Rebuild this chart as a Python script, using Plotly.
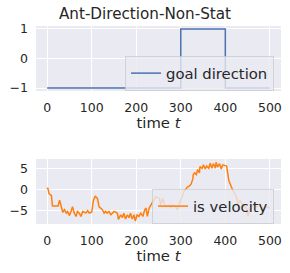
import plotly.graph_objects as go
from plotly.subplots import make_subplots

title = "Ant-Direction-Non-Stat"
goal_t = [0, 300, 400, 500]
goal_dir = [-1, 1, -1, -1]

vel_t = [0, 1.5, 4.5, 9.6, 11.9, 24.6, 28, 31.5, 35, 39, 43, 46, 50, 53.5, 57, 61, 65, 68, 72, 76,
         80, 87, 91, 94.5, 100, 104, 108, 113, 116.6, 120, 124, 128, 131, 135, 139, 143, 150, 157.6, 160, 165,
         169, 172, 176, 180, 184, 187, 191, 195, 198, 202, 206, 210, 215, 219, 222, 225, 229, 237, 244, 252,
         255, 259, 266, 274, 278, 281, 289, 292, 296, 304, 308, 311, 315, 319, 323, 327, 328, 331, 335, 338,
         342, 343, 348, 351, 355, 358, 363, 366, 370, 373, 378, 379, 383, 387, 391, 394, 400, 403, 408, 413,
         417, 425, 428, 432, 440, 447, 451, 455, 462, 470, 477, 485, 492, 500]
vel = [0, 0.3, -1.1, -1.5, -4, -4, -2.6, -4.5, -5.5, -4.9, -5.7, -5.3, -6.3, -5.3, -4.2, -5.7, -6.5, -5.3, -5.7, -6.5,
       -5.3, -5.7, -5.1, -5.7, -5.5, -2.6, -1.7, -2.2, -4.2, -4.5, -4.9, -5.7, -5.3, -5.7, -5.3, -6.1, -5.3, -5.7, -7.2, -6.1,
       -6.8, -5.7, -7.1, -6.1, -6.8, -5.7, -7.1, -6.1, -7.6, -6.1, -6.5, -5.7, -6.5, -4.9, -4.5, -6.5, -4.5, -3, -1.8, -2.2,
       -3.8, -2.2, -4.2, -3.8, -4.5, -3.8, -4.2, -4.9, -3.8, -1.5, -0.3, 0, 0.5, 0.7, 1.2, 2.4, 3.5, 3.9, 3.5, 4.7,
       3.9, 5.4, 5, 5.8, 4.8, 5.5, 5, 6.2, 5, 6.1, 5, 6.4, 5.3, 6.1, 4.8, 5.8, 5.5, 5.5, 2, 0.5,
       -0.3, -1.8, -3.8, -2.6, -3.8, -4.5, -6.5, -4.5, -3.8, -4.2, -3.6, -4.9, -4.2, -4.5]

x_ticks = [0, 100, 200, 300, 400, 500]
y1_ticks = [-1, 0, 1]
y2_ticks = [-5, 0, 5]

W, H = 290, 273
ml, mr, mt, mb = 36, 9, 26, 49
ph = H - mt - mb
pw = W - ml - mr

fig = make_subplots(rows=2, cols=1)
fig.add_trace(go.Scatter(x=goal_t, y=goal_dir, mode="lines", line=dict(color="#4C72B0", width=1.5, shape="hv"),
                         name="goal direction", legend="legend"), row=1, col=1)
fig.add_trace(go.Scatter(x=vel_t, y=vel, mode="lines", line=dict(color="#FF7F0E", width=1.5),
                         name="is velocity", legend="legend2"), row=2, col=1)

txt = "#262626"
fam = "DejaVu Sans"
lab_font = dict(family=fam, size=14.8, color=txt)
leg_font = dict(family=fam, size=14.8, color=txt)
axcommon = dict(showgrid=True, gridcolor="white", gridwidth=1, zeroline=False, showline=False,
                ticks="", automargin=False, tickfont=dict(family=fam, size=12.5, color=txt))

fig.update_layout(
    width=W, height=H, margin=dict(l=ml, r=mr, t=mt, b=mb),
    paper_bgcolor="white", plot_bgcolor="#EAEAF2",
    font=lab_font,
    title=dict(text=title, x=0.5, xanchor="center", y=1 - 14 / H, yanchor="middle",
               font=dict(family=fam, size=15.2, color=txt)),
    legend=dict(x=(274 - ml) / pw, xanchor="right", y=(H - mb - 56) / ph, yanchor="top",
                bgcolor="rgba(234,234,242,0.8)", bordercolor="rgba(204,204,204,0.8)", borderwidth=1,
                font=leg_font, itemwidth=30),
    legend2=dict(x=(274 - ml) / pw, xanchor="right", y=(H - mb - 189) / ph, yanchor="top",
                 bgcolor="rgba(234,234,242,0.8)", bordercolor="rgba(204,204,204,0.8)", borderwidth=1,
                 font=leg_font, itemwidth=30),
    showlegend=True,
)

top_lo = (H - mb - 91) / ph
bot_hi = (H - mb - 159) / ph
fig.update_xaxes(axcommon, range=[-25, 525], tickvals=x_ticks, ticklabelstandoff=7,
                 title=dict(text="time <i>t</i>", font=lab_font, standoff=4))
fig.update_yaxes(axcommon, ticklabelstandoff=7)
fig.update_layout(
    yaxis=dict(domain=[top_lo, 1], range=[-1.1, 1.1], tickvals=y1_ticks),
    yaxis2=dict(domain=[0, bot_hi], range=[-8.3, 7.2], tickvals=y2_ticks),
    xaxis=dict(anchor="y"), xaxis2=dict(anchor="y2"),
)

fig.write_html("out.html", config={"displayModeBar": False},
               post_script="document.body.style.margin='0';document.body.style.overflow='hidden';")
